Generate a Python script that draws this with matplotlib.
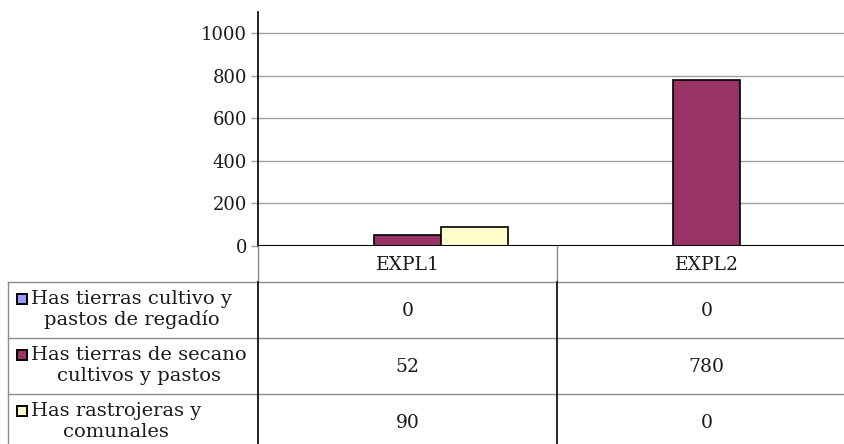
import matplotlib.pyplot as plt
from matplotlib.patches import Rectangle

# Hectares per farm, by land type
farms = ["EXPL1", "EXPL2"]
series = ["Has tierras cultivo y\npastos de regadío",
          "Has tierras de secano\ncultivos y pastos",
          "Has rastrojeras y\ncomunales"]
regadio = [0, 0]
secano = [52, 780]
rastrojeras = [90, 0]
values = [regadio, secano, rastrojeras]
colors = ["#9999FF", "#993366", "#FFFFCC"]
yticks = [0, 200, 400, 600, 800, 1000]

W, H = 844, 444
fig = plt.figure(figsize=(W / 100, H / 100), dpi=100)
plt.rcParams['font.family'] = ['DejaVu Serif']

def fx(px):
    return px / W

def fy(py):
    return 1 - py / H

# chart area: y axis at x=258, zero at y=246, axis top at y=12
left, right, top, bottom = 258, 856, 12, 246
ax = fig.add_axes([fx(left), fy(bottom), fx(right - left), (bottom - top) / H])
ax.set_xlim(-0.5, 1.5)
ax.set_ylim(0, 1101)

bw = 0.224
for i, vals in enumerate(values):
    ax.bar([x + (i - 1) * bw for x in range(len(farms))], vals, width=bw,
           color=colors[i], edgecolor="black", linewidth=1.2, zorder=3)

ax.set_yticks(yticks)
ax.set_yticklabels([str(t) for t in yticks], fontsize=13, color="#1a1a1a")
ax.yaxis.grid(True, color="#a0a0a0", linewidth=1)
ax.set_axisbelow(True)
ax.set_xticks([])
ax.tick_params(axis="y", length=5, width=1, color="#a0a0a0", pad=3)
for s in ["top", "right", "bottom"]:
    ax.spines[s].set_visible(False)
ax.spines["left"].set_linewidth(1.2)
ax.axhline(0, color="black", linewidth=1.5, zorder=4)

# data table under the chart
cat_w = (right - left) / 2
row_tops = [282, 338, 394, 450]
line_kw = dict(transform=fig.transFigure, clip_on=False)

def hline(x0, x1, y, color, lw=1.0):
    fig.add_artist(plt.Line2D([fx(x0), fx(x1)], [fy(y), fy(y)], color=color, linewidth=lw, **line_kw))

def vline(x, y0, y1, color, lw=1.0):
    fig.add_artist(plt.Line2D([fx(x), fx(x)], [fy(y0), fy(y1)], color=color, linewidth=lw, **line_kw))

for y in row_tops[:3]:
    hline(8, W, y, "#8c8c8c")
vline(8, 282, H, "#8c8c8c")
vline(left, bottom, 282, "#8c8c8c")
vline(left, 282, H, "black", 1.2)
vline(left + cat_w, bottom, 282, "#8c8c8c")
vline(left + cat_w, 282, H, "black", 1.2)

for j, name in enumerate(farms):
    cx = left + cat_w * (j + 0.5)
    fig.text(fx(cx), fy(265), name, ha="center", va="center", fontsize=13.5, color="#1a1a1a")

for i, label in enumerate(series):
    cy = (row_tops[i] + row_tops[i + 1]) / 2
    # legend key: small square level with the first text line
    fig.add_artist(Rectangle((fx(17), fy(cy - 6.5)), fx(10), 10 / H,
                             facecolor=colors[i], edgecolor="black", linewidth=1.4,
                             transform=fig.transFigure))
    fig.text(fx(31), fy(cy - 0.5), label, ha="left", va="center", multialignment="center",
             fontsize=14, color="#1a1a1a", linespacing=1.15)
    for j in range(len(farms)):
        cx = left + cat_w * (j + 0.5)
        fig.text(fx(cx), fy(cy + 1), str(values[i][j]), ha="center", va="center",
                 fontsize=13.5, color="#1a1a1a")

fig.savefig("out.png", dpi=100)
